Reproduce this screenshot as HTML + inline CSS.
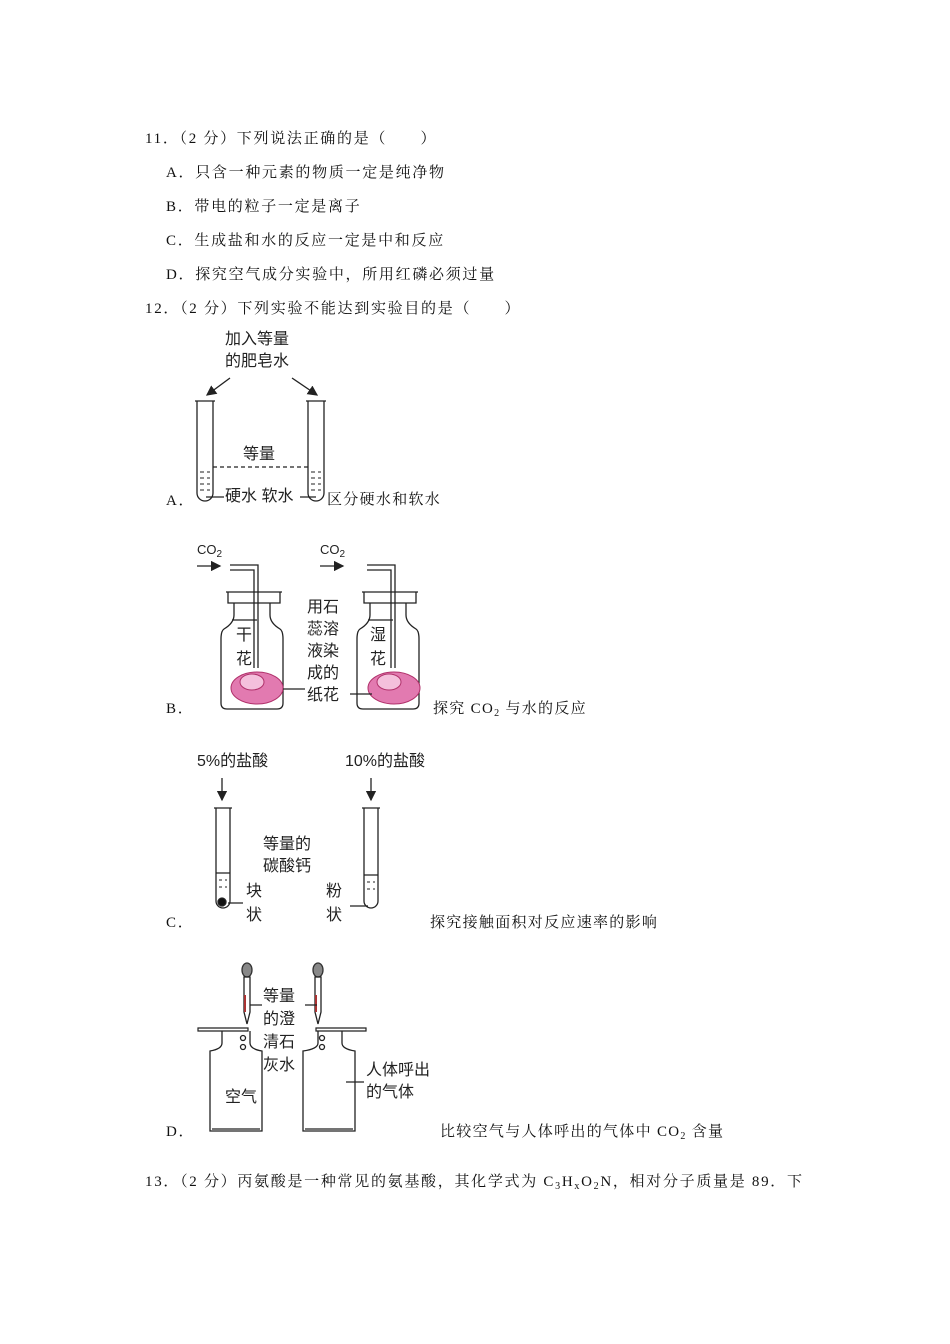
<!DOCTYPE html>
<html><head><meta charset="utf-8"><style>
body{margin:0;width:950px;height:1344px;background:#fff;position:relative;font-family:"Liberation Serif","Noto Serif CJK SC",serif;color:#111}
.t{position:absolute;font-size:15px;line-height:15px;white-space:nowrap;letter-spacing:1.7px}
.l{letter-spacing:1.3px}
.s{position:absolute;font-family:"Liberation Sans","Noto Sans CJK SC",sans-serif;font-size:16px;line-height:16px;white-space:nowrap;color:#222}
sub{font-size:10px;vertical-align:-3px;line-height:0}
</style></head><body>
<div class="t" style="left:145px;top:132px">11．（2 分）下列说法正确的是（　　）</div>
<div class="t" style="left:166px;top:166px">A．只含一种元素的物质一定是纯净物</div>
<div class="t" style="left:166px;top:200px">B．带电的粒子一定是离子</div>
<div class="t" style="left:166px;top:234px">C．生成盐和水的反应一定是中和反应</div>
<div class="t" style="left:166px;top:268px">D．探究空气成分实验中，所用红磷必须过量</div>
<div class="t" style="left:145px;top:302px">12．（2 分）下列实验不能达到实验目的是（　　）</div>
<div class="t" style="left:166px;top:494px">A．</div>
<div class="t" style="left:166px;top:702px">B．</div>
<div class="t" style="left:166px;top:916px">C．</div>
<div class="t" style="left:166px;top:1125px">D．</div>
<div class="t l" style="left:327px;top:493px">区分硬水和软水</div>
<div class="t l" style="left:433px;top:702px">探究 CO<sub>2</sub> 与水的反应</div>
<div class="t l" style="left:430px;top:916px">探究接触面积对反应速率的影响</div>
<div class="t l" style="left:440px;top:1125px">比较空气与人体呼出的气体中 CO<sub>2</sub> 含量</div>
<div class="t" style="left:145px;top:1175px">13．（2 分）丙氨酸是一种常见的氨基酸，其化学式为 C<sub>3</sub>H<sub>x</sub>O<sub>2</sub>N，相对分子质量是 89．下</div>

<div class="s" style="left:225px;top:332px">加入等量</div>
<div class="s" style="left:225px;top:354px">的肥皂水</div>
<div class="s" style="left:243px;top:447px">等量</div>
<div class="s" style="left:225px;top:489px">硬水 软水</div>
<div class="s" style="left:197px;top:542px;font-size:13px">CO<sub>2</sub></div>
<div class="s" style="left:320px;top:542px;font-size:13px">CO<sub>2</sub></div>
<div class="s" style="left:307px;top:597px;line-height:22px">用石<br>蕊溶<br>液染<br>成的<br>纸花</div>
<div class="s" style="left:236px;top:624px;line-height:24px">干<br>花</div>
<div class="s" style="left:370px;top:624px;line-height:24px">湿<br>花</div>
<div class="s" style="left:197px;top:754px">5%的盐酸</div>
<div class="s" style="left:345px;top:754px">10%的盐酸</div>
<div class="s" style="left:263px;top:834px;line-height:22px">等量的<br>碳酸钙</div>
<div class="s" style="left:246px;top:880px;line-height:24px">块<br>状</div>
<div class="s" style="left:326px;top:880px;line-height:24px">粉<br>状</div>
<div class="s" style="left:263px;top:985px;line-height:23px">等量<br>的澄<br>清石<br>灰水</div>
<div class="s" style="left:225px;top:1090px">空气</div>
<div class="s" style="left:366px;top:1060px;line-height:22px">人体呼出<br>的气体</div>

<svg width="950" height="1344" style="position:absolute;left:0;top:0" fill="none" stroke="#222" stroke-width="1.3">
<defs><marker id="ar" markerWidth="8" markerHeight="8" refX="7" refY="4" orient="auto"><path d="M0,0L8,4L0,8z" fill="#222" stroke="none"/></marker></defs>
<line x1="230" y1="378" x2="207" y2="395" marker-end="url(#ar)"/>
<line x1="292" y1="378" x2="317" y2="395" marker-end="url(#ar)"/>
<path d="M197,401V493a8,8 0 0 0 16,0V401M195,401h20"/>
<path d="M308,401V493a8,8 0 0 0 16,0V401M306,401h20"/>
<line x1="213" y1="467" x2="308" y2="467" stroke-dasharray="4,3"/>
<g stroke-dasharray="4,3" stroke-width="1"><path d="M200,472h10M200,478h10M200,484h10M200,490h10M311,472h10M311,478h10M311,484h10M311,490h10"/></g>
<path d="M206,497h18M300,497h16"/>
<line x1="197" y1="566" x2="220" y2="566" marker-end="url(#ar)"/>
<line x1="320" y1="566" x2="343" y2="566" marker-end="url(#ar)"/>
<path d="M230,565H258V668M230,570H254V668"/>
<path d="M367,565H395V668M367,570H391V668"/>
<path d="M226,592h56M228,592v11h52v-11M234,603v12q0,8-10,14q-3,2-3,10v64q0,6,6,6h50q6,0,6-6v-64q0-8-3-10q-10-6-10-14v-12M232,620h25"/>
<path d="M362,592h56M364,592v11h52v-11M370,603v12q0,8-10,14q-3,2-3,10v64q0,6,6,6h50q6,0,6-6v-64q0-8-3-10q-10-6-10-14v-12M368,620h25"/>
<g fill="#e27ab0" stroke="#b0306a" stroke-width="1"><ellipse cx="257" cy="688" rx="26" ry="16"/><ellipse cx="394" cy="688" rx="26" ry="16"/></g>
<g fill="#f4c0dc" stroke="#b0306a" stroke-width="1"><ellipse cx="252" cy="682" rx="12" ry="8"/><ellipse cx="389" cy="682" rx="12" ry="8"/></g>
<path d="M283,689h22M350,694h22"/>
<line x1="222" y1="778" x2="222" y2="800" marker-end="url(#ar)"/>
<line x1="371" y1="778" x2="371" y2="800" marker-end="url(#ar)"/>
<path d="M216,808V901a7,7 0 0 0 14,0V808M214,808h18"/>
<path d="M364,808V901a7,7 0 0 0 14,0V808M362,808h18"/>
<path d="M216,873h14M364,875h14"/>
<g stroke-dasharray="3,3" stroke-width="1"><path d="M219,880h8M219,887h8M367,882h8M367,889h8"/></g>
<circle cx="222" cy="902" r="4" fill="#111"/>
<path d="M228,903h15M350,906h18"/>
<g fill="#888" stroke="#333"><ellipse cx="247" cy="970" rx="5" ry="7"/><ellipse cx="318" cy="970" rx="5" ry="7"/></g>
<path d="M244,977v35l3,12l3-12v-35zM315,977v35l3,12l3-12v-35z"/>
<path d="M245,995v17M316,995v17" stroke="#a33" stroke-width="2"/>
<path d="M250,1005h12M305,1005h12"/>
<path d="M198,1028h50v3h-50zM316,1028h50v3h-50z" stroke-width="1.2"/>
<path d="M222,1031v12q0,6-12,8v80h52v-80q-12-2-12-8v-12M212,1129h48"/>
<path d="M318,1031v12q0,6-15,8v80h52v-80q-13-2-13-8v-12M305,1129h48"/>
<circle cx="243" cy="1038" r="2.5"/><circle cx="243" cy="1047" r="2.5"/>
<circle cx="322" cy="1038" r="2.5"/><circle cx="322" cy="1047" r="2.5"/>
<path d="M346,1082h18"/>
</svg>
</body></html>
